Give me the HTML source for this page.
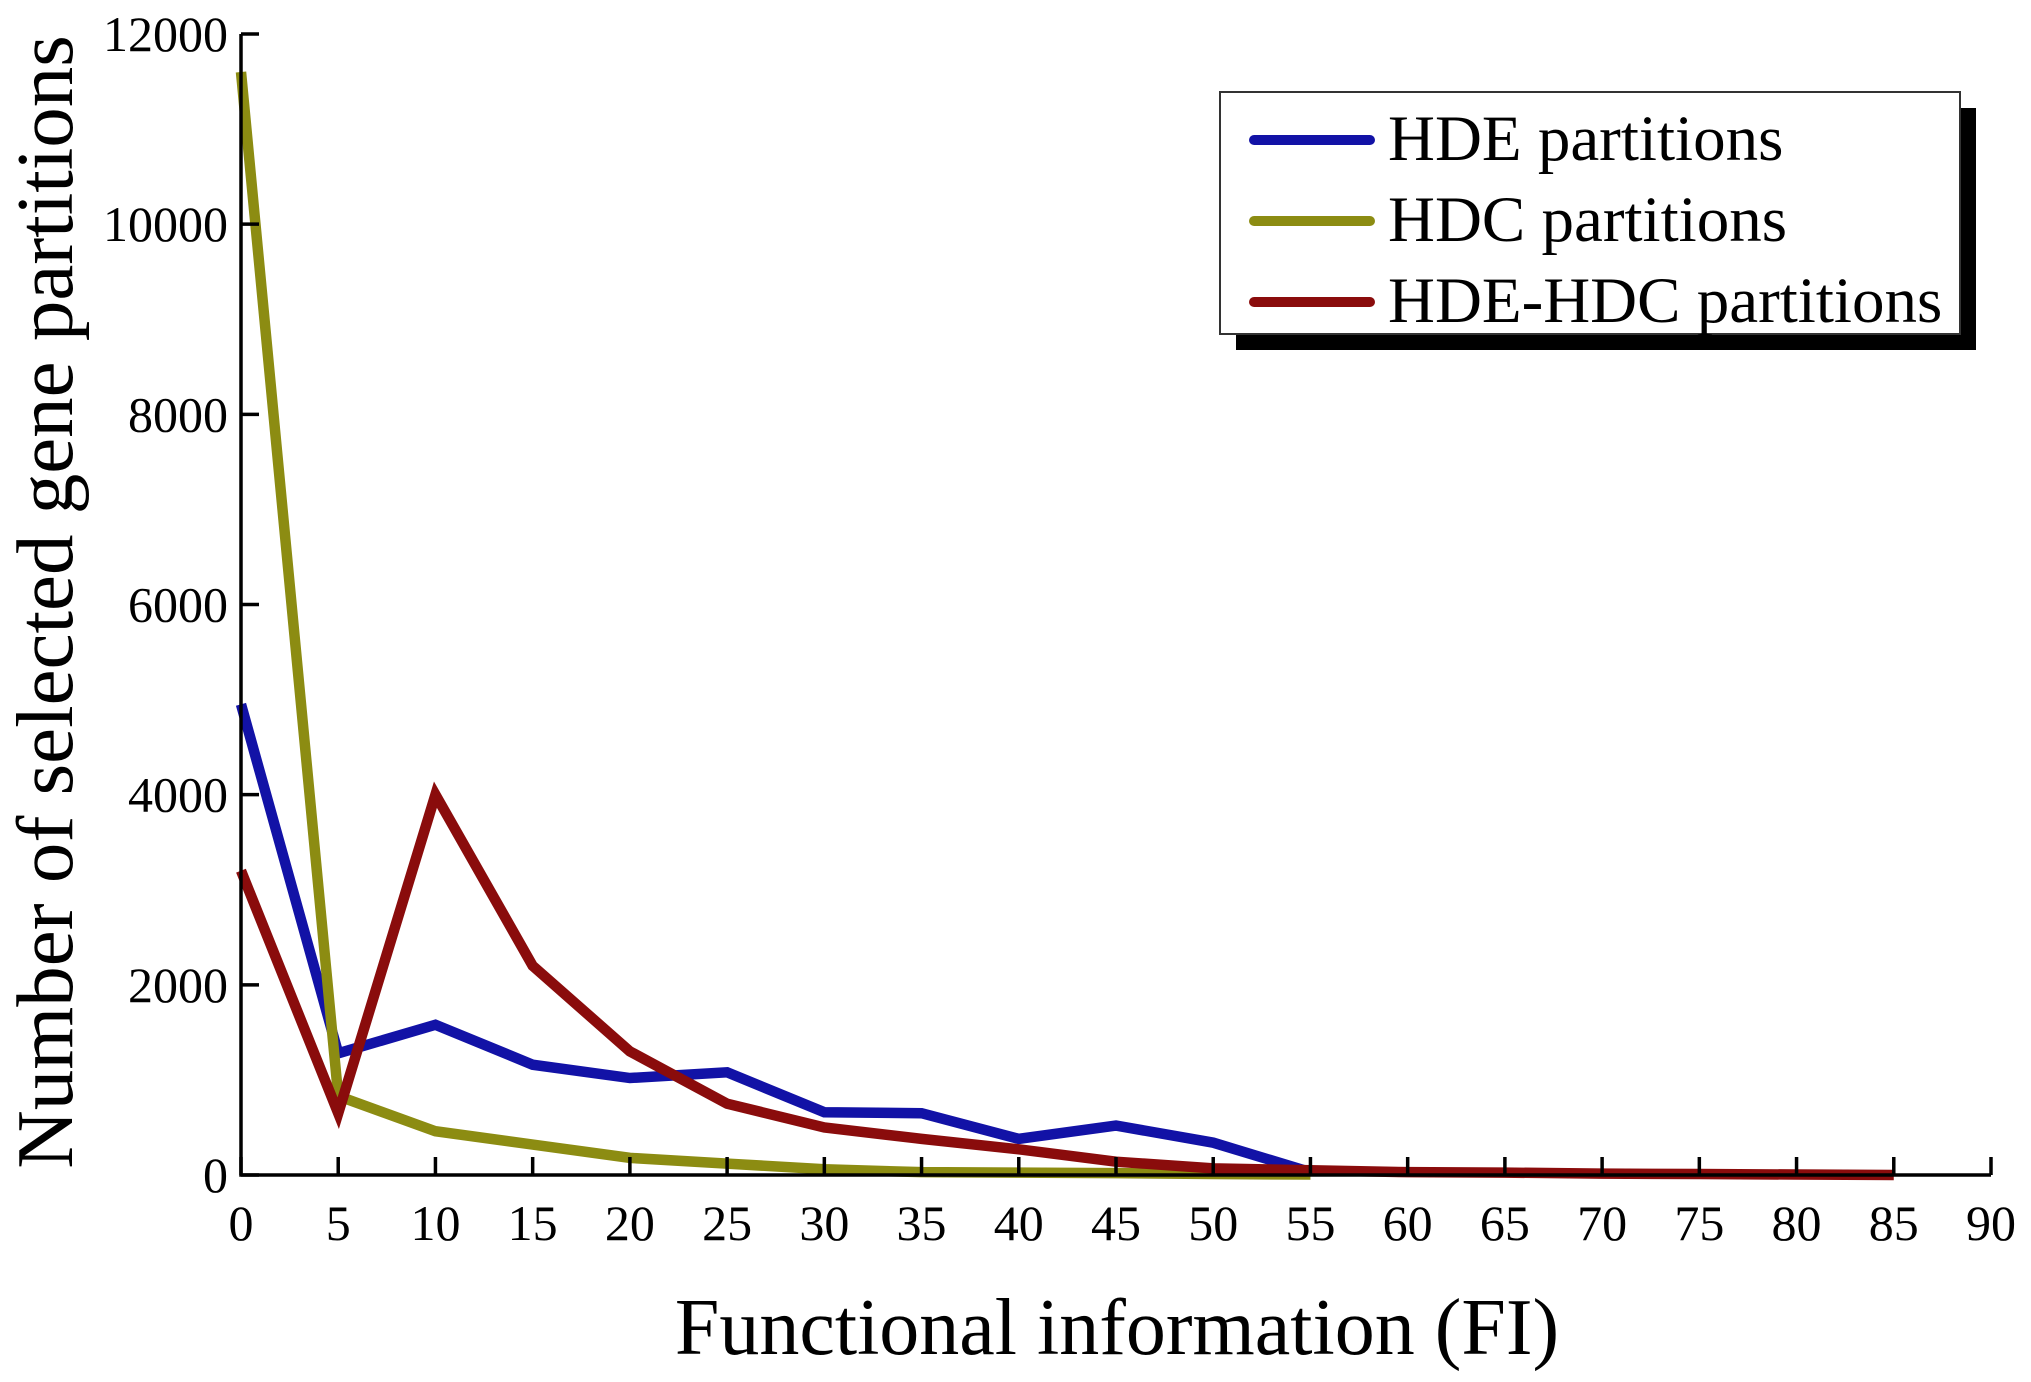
<!DOCTYPE html>
<html><head><meta charset="utf-8"><style>
body{margin:0;background:#fff}
svg{display:block;font-family:"Liberation Serif",serif}
</style></head><body>
<svg id="c" width="2031" height="1382"></svg>
<script>
const xTicks=[0,5,10,15,20,25,30,35,40,45,50,55,60,65,70,75,80,85,90];
const yTicks=[0,2000,4000,6000,8000,10000,12000];
const xsHDE=[0,5,10,15,20,25,30,35,40,45,50,55];
const hde=[4950,1280,1580,1160,1020,1080,660,650,380,520,340,30];
const xsHDC=[0,5,10,15,20,25,30,35,40,45,50,55];
const hdc=[11600,830,460,320,180,120,60,30,25,20,10,5];
const xsMix=[0,5,10,15,20,25,30,35,40,45,50,55,60,65,70,75,80,85];
const mix=[3200,650,4000,2200,1300,750,500,380,270,140,70,50,30,25,15,10,5,0];
const seriesNames=["HDE partitions","HDC partitions","HDE-HDC partitions"];
const colors=["#1212a6","#8c8c12","#8a0c0c"];
const NS="http://www.w3.org/2000/svg";
const svg=document.getElementById('c');
const X=v=>241+v*(1991-241)/90, Y=v=>1175-v*(1175-34)/12000;
function mk(t,a,p){const e=document.createElementNS(NS,t);for(const k in a)e.setAttribute(k,a[k]);(p||svg).appendChild(e);return e;}
[[xsHDE,hde,0],[xsHDC,hdc,1],[xsMix,mix,2]].forEach(([xs,ys,i])=>{
 const p=mk('polyline',{points:xs.map((x,j)=>X(x)+','+Y(ys[j])).join(' '),fill:'none',stroke:colors[i],'stroke-width':10.5,'stroke-linejoin':'miter'});
 
 
});
const ax=mk('path',{d:`M${X(0)},${Y(12000)}V${Y(0)}H${X(90)}`,fill:'none',stroke:'#000','stroke-width':3.5});


xTicks.forEach(t=>{
 mk('line',{x1:X(t),x2:X(t),y1:Y(0),y2:Y(0)-18,stroke:'#000','stroke-width':3.5});
 const tx=mk('text',{x:X(t),y:1240,'font-size':50,'text-anchor':'middle'});tx.textContent=t;
 
 
});
yTicks.forEach(t=>{
 mk('line',{x1:X(0),x2:X(0)+18,y1:Y(t),y2:Y(t),stroke:'#000','stroke-width':3.5});
 const tx=mk('text',{x:228,y:Y(t)+17,'font-size':50,'text-anchor':'end'});tx.textContent=t;
 
 
});
const xt=mk('text',{x:1117,y:1354,'font-size':80,'text-anchor':'middle'});xt.textContent='Functional information (FI)';


const yt=mk('text',{x:0,y:0,'font-size':81,'text-anchor':'middle',transform:'translate(72,602) rotate(-90)'});yt.textContent='Number of selected gene partitions';


const lg=mk('g',{});


mk('rect',{x:1236,y:108,width:740,height:242,fill:'#000'},lg);
mk('rect',{x:1220,y:92,width:740,height:242,fill:'#fff',stroke:'#333','stroke-width':2},lg);
seriesNames.forEach((n,i)=>{
 const y=140+i*81;
 mk('line',{x1:1254,x2:1370,y1:y,y2:y,stroke:colors[i],'stroke-width':10,'stroke-linecap':'round'},lg);
 const t=mk('text',{x:1388,y:y+20,'font-size':65},lg);t.textContent=n;
 
 
});
</script>
</body></html>
